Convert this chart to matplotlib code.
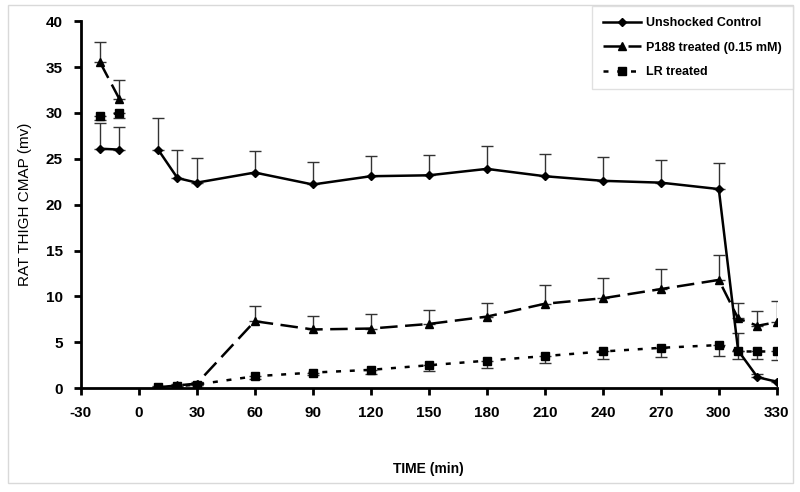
import matplotlib.pyplot as plt
from matplotlib.patches import Rectangle

plt.rcParams['font.family'] = ['Liberation Sans', 'DejaVu Sans']
plt.rcParams['font.weight'] = 'bold'

time = [-20, -10, 10, 20, 30, 60, 90, 120, 150, 180, 210, 240, 270, 300, 310, 320, 330]

control = [26.1, 26.0, 26.0, 22.9, 22.4, 23.5, 22.2, 23.1, 23.2, 23.9, 23.1, 22.6, 22.4, 21.7, 4.1, 1.2, 0.7]
control_err = [2.8, 2.5, 3.4, 3.1, 2.7, 2.4, 2.4, 2.2, 2.2, 2.5, 2.4, 2.6, 2.5, 2.8, 1.9, 0.3, 0.2]

p188 = [35.5, 31.5, 0.1, 0.3, 0.5, 7.3, 6.4, 6.5, 7.0, 7.8, 9.2, 9.8, 10.8, 11.8, 7.6, 6.8, 7.2]
p188_err = [2.2, 2.1, 0.1, 0.2, 0.2, 1.7, 1.5, 1.6, 1.5, 1.5, 2.0, 2.2, 2.2, 2.7, 1.7, 1.6, 2.3]

lr = [29.7, 30.0, 0.1, 0.2, 0.4, 1.3, 1.7, 2.0, 2.5, 3.0, 3.5, 4.0, 4.4, 4.7, 4.0, 4.0, 4.0]
lr_err = [0.5, 0.5, 0.1, 0.1, 0.1, 0.3, 0.3, 0.4, 0.6, 0.8, 0.8, 0.8, 1.0, 1.2, 0.8, 0.8, 0.9]

xticks = list(range(-30, 331, 30))
yticks = list(range(0, 41, 5))


def segments(x, y):
    # lines are broken between -10 and 10 (no point at 0)
    return [(x[:2], y[:2]), (x[2:], y[2:])]


fig = plt.figure(figsize=(8, 4.92), dpi=100)
ax = fig.add_axes([0.101, 0.211, 0.870, 0.746])

err_kw = dict(fmt='none', ecolor='#333333', elinewidth=1.0, capsize=4, capthick=1.0, zorder=2)
# error bars: control & P188 upward, LR downward
ax.errorbar(time, control, yerr=[[0] * len(time), control_err], **err_kw)
ax.errorbar(time, p188, yerr=[[0] * len(time), p188_err], **err_kw)
ax.errorbar(time, lr, yerr=[lr_err, [0] * len(time)], **err_kw)

styles = [
    (control, 'Unshocked Control', '-', 'D', 4),
    (p188, 'P188 treated (0.15 mM)', (0, (7, 3)), '^', 6),
    (lr, 'LR treated', (0, (2, 3.5)), 's', 5.5),
]
for vals, name, ls, mk, ms in styles:
    for i, (xs, ys) in enumerate(segments(time, vals)):
        ax.plot(xs, ys, color='black', linestyle=ls, linewidth=1.8, marker=mk,
                markersize=ms, label=name if i == 0 else None, zorder=3)

ax.set_xlim(-30, 330)
ax.set_ylim(0, 40)
ax.set_xticks(xticks)
ax.set_yticks(yticks)
ax.set_xticklabels([str(t) for t in xticks], fontsize=11, fontweight='bold')
ax.set_yticklabels([str(t) for t in yticks], fontsize=11, fontweight='bold')
ax.tick_params(direction='out', length=5, width=2, pad=8)
for s in ['top', 'right']:
    ax.spines[s].set_visible(False)
for s in ['left', 'bottom']:
    ax.spines[s].set_linewidth(2)

ax.set_xlabel('TIME (min)', fontsize=10, fontweight='bold', labelpad=30)
ax.set_ylabel('RAT THIGH CMAP (mv)', fontsize=11, fontweight='normal', labelpad=10)

leg = fig.legend(loc='upper right', bbox_to_anchor=(0.991, 0.988), fontsize=9,
                 frameon=True, fancybox=False, handlelength=3.0, borderpad=0.9,
                 labelspacing=1.0, handletextpad=0.4, borderaxespad=0)
leg.get_frame().set_edgecolor('#d9d9d9')
leg.get_frame().set_linewidth(1)
for t in leg.get_texts():
    t.set_fontweight('bold')

fig.patches.append(Rectangle((0.010, 0.018), 0.981, 0.972, transform=fig.transFigure,
                             fill=False, edgecolor='#d9d9d9', linewidth=1))

fig.savefig('out.png', dpi=100)
